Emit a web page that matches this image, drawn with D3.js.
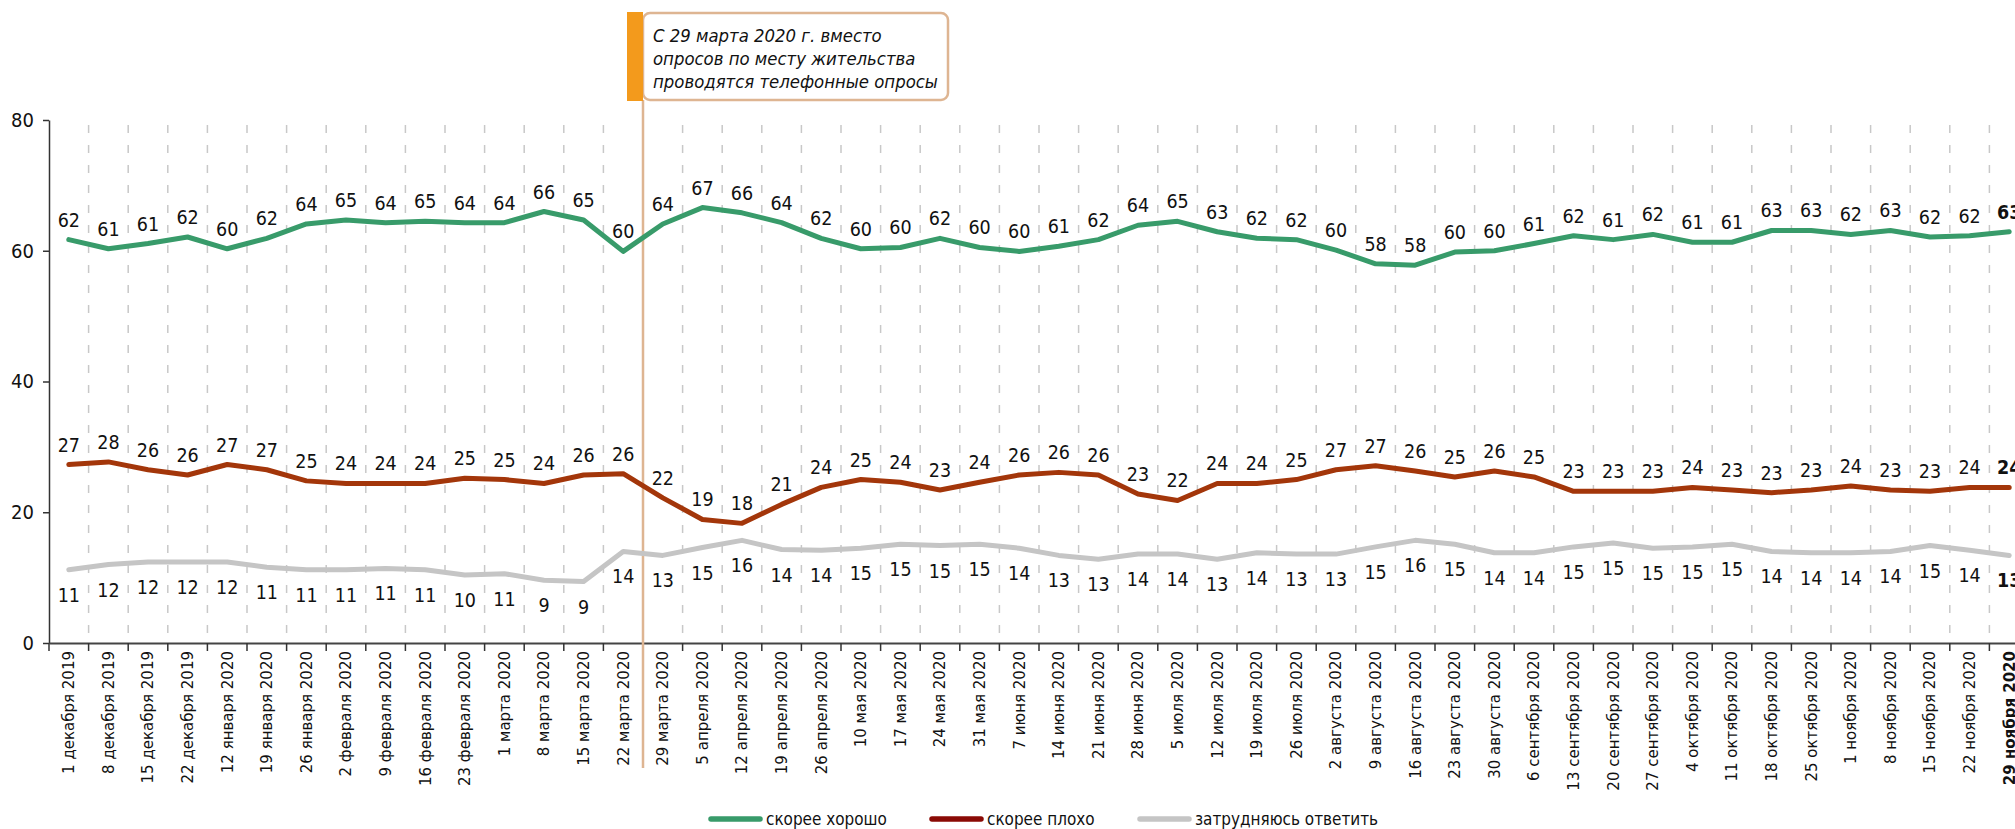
<!DOCTYPE html>
<html><head><meta charset="utf-8">
<script src="https://cdn.jsdelivr.net/npm/d3@7"></script>
<style>
html,body{margin:0;padding:0;background:#fff;overflow:hidden}
svg{display:block}
.cond{font-family:"Liberation Sans Narrow","DejaVu Sans Condensed","Arial Narrow",sans-serif;font-stretch:condensed}
.tick-lab{font-family:"DejaVu Sans",Verdana,sans-serif}
</style></head><body>
<svg id="chart" width="2015" height="829"></svg>
<script>
const categories = ["1 декабря 2019","8 декабря 2019","15 декабря 2019","22 декабря 2019","12 января 2020","19 января 2020","26 января 2020","2 февраля 2020","9 февраля 2020","16 февраля 2020","23 февраля 2020","1 марта 2020","8 марта 2020","15 марта 2020","22 марта 2020","29 марта 2020","5 апреля 2020","12 апреля 2020","19 апреля 2020","26 апреля 2020","10 мая 2020","17 мая 2020","24 мая 2020","31 мая 2020","7 июня 2020","14 июня 2020","21 июня 2020","28 июня 2020","5 июля 2020","12 июля 2020","19 июля 2020","26 июля 2020","2 августа 2020","9 августа 2020","16 августа 2020","23 августа 2020","30 августа 2020","6 сентября 2020","13 сентября 2020","20 сентября 2020","27 сентября 2020","4 октября 2020","11 октября 2020","18 октября 2020","25 октября 2020","1 ноября 2020","8 ноября 2020","15 ноября 2020","22 ноября 2020","29 ноября 2020"];

const goodValues = [61.7,60.3,61.1,62.1,60.3,61.9,64.1,64.7,64.3,64.5,64.3,64.3,66.0,64.7,59.9,64.1,66.6,65.8,64.3,61.9,60.3,60.5,61.9,60.5,59.9,60.7,61.7,63.9,64.5,62.9,61.9,61.7,60.1,58.0,57.8,59.8,60.0,61.1,62.3,61.7,62.5,61.3,61.3,63.1,63.1,62.5,63.1,62.1,62.3,62.9];
const goodLabels = [62,61,61,62,60,62,64,65,64,65,64,64,66,65,60,64,67,66,64,62,60,60,62,60,60,61,62,64,65,63,62,62,60,58,58,60,60,61,62,61,62,61,61,63,63,62,63,62,62,63];

const badValues = [27.3,27.7,26.5,25.7,27.3,26.5,24.8,24.4,24.4,24.4,25.2,25.0,24.4,25.7,25.9,22.2,18.9,18.3,21.2,23.8,25.0,24.6,23.4,24.6,25.7,26.1,25.7,22.8,21.8,24.4,24.4,25.0,26.5,27.1,26.3,25.4,26.3,25.4,23.2,23.2,23.2,23.8,23.4,23.0,23.4,24.0,23.4,23.2,23.8,23.8];
const badLabels = [27,28,26,26,27,27,25,24,24,24,25,25,24,26,26,22,19,18,21,24,25,24,23,24,26,26,26,23,22,24,24,25,27,27,26,25,26,25,23,23,23,24,23,23,23,24,23,23,24,24];

const hardValues = [11.2,12.0,12.4,12.4,12.4,11.6,11.2,11.2,11.4,11.2,10.4,10.6,9.6,9.4,14.0,13.4,14.6,15.7,14.3,14.2,14.5,15.1,14.9,15.1,14.5,13.4,12.8,13.6,13.6,12.8,13.8,13.6,13.6,14.7,15.7,15.1,13.8,13.8,14.7,15.3,14.5,14.7,15.1,14.0,13.8,13.8,14.0,14.9,14.2,13.4];
const hardLabels = [11,12,12,12,12,11,11,11,11,11,10,11,9,9,14,13,15,16,14,14,15,15,15,15,14,13,13,14,14,13,14,13,13,15,16,15,14,14,15,15,15,15,15,14,14,14,14,15,14,13];

const seriesNames = ["скорее хорошо","скорее плохо","затрудняюсь ответить"];
const yTicks = [0,20,40,60,80];
const noteLines = ["С 29 марта 2020 г. вместо","опросов по месту жительства","проводятся телефонные опросы"];
const noteCategory = "29 марта 2020";

const svg = d3.select("#chart");
const left = 49, step = 39.6;
const x = d3.scaleBand().domain(categories).range([left, left + categories.length*step]).padding(0);
const cx = c => x(c) + x.bandwidth()/2;
const y = d3.scaleLinear().domain([0,80]).range([643,120]);

// dashed vertical gridlines at band boundaries
svg.append("g").selectAll("line").data(categories)
  .join("line")
  .attr("x1",d=> x(d) + step).attr("x2",d=> x(d) + step)
  .attr("y1", y(80)+5).attr("y2", y(0))
  .attr("stroke","#c8c8c8").attr("stroke-width",1.5).attr("stroke-dasharray","8,12");

// y axis
const yAxis = svg.append("g").attr("transform",`translate(${left},0)`)
  .call(d3.axisLeft(y).tickValues(yTicks).tickSize(6).tickSizeOuter(0).tickPadding(9));
yAxis.select(".domain").attr("stroke","#333").attr("stroke-width",1.5);
yAxis.selectAll(".tick line").attr("stroke","#333").attr("stroke-width",1.5);
yAxis.selectAll("text").attr("class","cond").attr("font-size",20).attr("fill","#111");

// x axis
const xAxis = svg.append("g").attr("transform",`translate(0,${y(0)})`)
  .call(d3.axisBottom(x).tickSize(0).tickSizeOuter(0));
xAxis.select(".domain").attr("stroke","#444").attr("stroke-width",1.8);
xAxis.selectAll(".tick text")
  .attr("class","tick-lab").attr("font-size",15).attr("fill","#111")
  .attr("transform","rotate(-90)").attr("x",-8).attr("y",0).attr("dy","0.36em")
  .attr("text-anchor","end")
  .attr("font-weight",(d,i)=> i===categories.length-1 ? "bold" : null);
svg.append("g").selectAll("line").data(categories).join("line")
  .attr("x1",d=>x(d)).attr("x2",d=>x(d)).attr("y1",y(0)).attr("y2",y(0)+8)
  .attr("stroke","#333").attr("stroke-width",1.5);

// annotation
const xl = x(noteCategory);
svg.append("line").attr("x1",xl).attr("x2",xl).attr("y1",100).attr("y2",768)
  .attr("stroke","#deb592").attr("stroke-width",2.5);
svg.append("rect").attr("x",xl).attr("y",13).attr("width",305).attr("height",87).attr("rx",7)
  .attr("fill","#fff").attr("stroke","#deb592").attr("stroke-width",2.5);
svg.append("rect").attr("x",xl-16).attr("y",12).attr("width",16).attr("height",89).attr("fill","#f39a1c");
const note = svg.append("g");
noteLines.forEach((t,i)=>{
  note.append("text").attr("class","cond").attr("x",xl+10).attr("y",42+i*23)
    .attr("font-size",20).attr("font-style","italic").attr("fill","#111").text(t);
});
{
  const w = d3.max(note.selectAll("text").nodes(), n=>n.getComputedTextLength());
  note.selectAll("text").attr("font-size",20*285/w);
}

// lines
const series = [
  {vals:goodValues, labs:goodLabels, color:"#389b6a", legend:"#389b6a", pos:"above"},
  {vals:badValues, labs:badLabels, color:"#a3360a", legend:"#8a0a05", pos:"above"},
  {vals:hardValues, labs:hardLabels, color:"#c5c5c5", legend:"#c5c5c5", pos:"below"}
];
const line = d3.line().x((d,i)=>cx(categories[i])).y(d=>y(d));
series.slice().reverse().forEach(s=>{
  svg.append("path").datum(s.vals).attr("d",line).attr("fill","none")
    .attr("stroke",s.color).attr("stroke-width",5).attr("stroke-linejoin","round").attr("stroke-linecap","round");
});
series.forEach(s=>{
  svg.append("g").selectAll("text").data(s.vals).join("text")
    .attr("class","cond").attr("font-size",19.5).attr("fill","#111").attr("text-anchor","middle")
    .attr("x",(d,i)=>cx(categories[i]))
    .attr("y",d=> s.pos==="above" ? y(d)-13 : y(d)+32)
    .attr("font-weight",(d,i)=> i===categories.length-1 ? "bold" : null)
    .text((d,i)=>s.labs[i]);
});

// legend
const legendX = [711, 932, 1140];
const lg = svg.append("g");
series.forEach((s,i)=>{
  lg.append("line").attr("x1",legendX[i]).attr("x2",legendX[i]+49).attr("y1",819).attr("y2",819)
    .attr("stroke",s.legend).attr("stroke-width",5.5).attr("stroke-linecap","round");
  lg.append("text").attr("class","cond legend-text").attr("x",legendX[i]+55).attr("y",825)
    .attr("font-size",20).attr("fill","#111").text(seriesNames[i]);
});
{
  const t0 = lg.select(".legend-text").node().getComputedTextLength();
  lg.selectAll(".legend-text").attr("font-size",20*121/t0);
}
</script>
</body></html>
